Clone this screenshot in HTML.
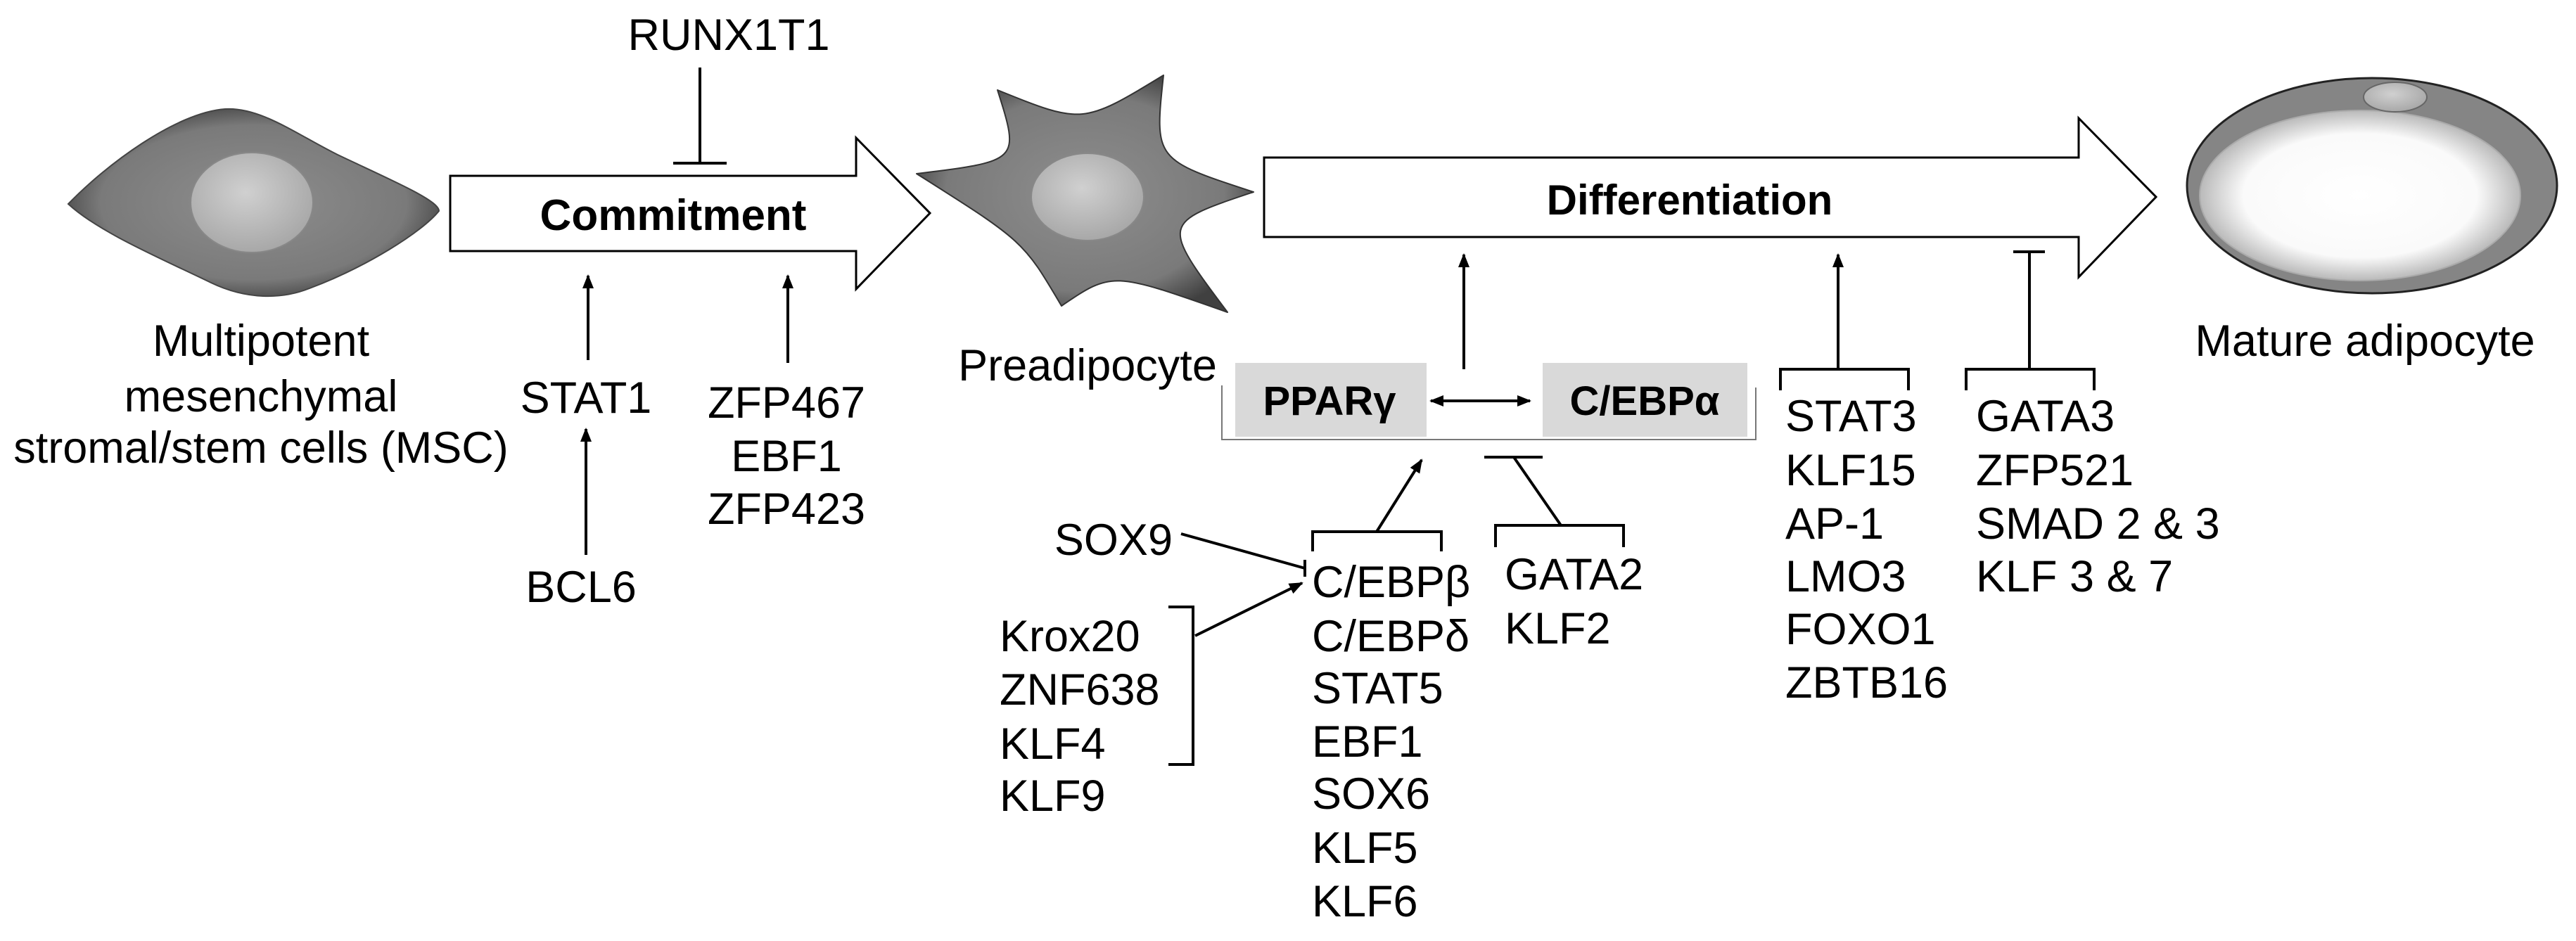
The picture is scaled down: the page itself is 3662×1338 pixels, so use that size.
<!DOCTYPE html>
<html><head><meta charset="utf-8"><style>
html,body{margin:0;padding:0;background:#fff;}
svg{display:block;}
text{font-family:"Liberation Sans",Arial,sans-serif;font-size:63px;fill:#000;}
.b{font-weight:bold;}
</style></head><body>
<svg width="3662" height="1338" viewBox="0 0 3662 1338" xmlns="http://www.w3.org/2000/svg">
<defs>
<radialGradient id="cell" cx="50%" cy="50%" r="55%">
<stop offset="0%" stop-color="#8e8e8e"/><stop offset="75%" stop-color="#7a7a7a"/><stop offset="100%" stop-color="#404040"/>
</radialGradient>
<radialGradient id="nuc" cx="45%" cy="40%" r="60%">
<stop offset="0%" stop-color="#d0d0d0"/><stop offset="100%" stop-color="#a8a8a8"/>
</radialGradient>
<radialGradient id="fat" cx="50%" cy="50%" r="52%">
<stop offset="0%" stop-color="#ffffff"/><stop offset="70%" stop-color="#fafafa"/><stop offset="100%" stop-color="#b0b0b0"/>
</radialGradient>
<marker id="ah" viewBox="0 0 10 10" refX="9" refY="5" markerWidth="5" markerHeight="5" orient="auto-start-reverse" markerUnits="strokeWidth">
<path d="M0,1 L10,5 L0,9 z" fill="#000"/>
</marker>
</defs>

<!-- MSC cell -->
<path d="M97,290 C150,235 250,160 320,155 C370,152 420,190 480,220 C560,258 624,285 624,300 C600,330 520,380 440,410 C400,426 350,426 300,402 C230,368 140,330 97,290 Z" fill="url(#cell)" stroke="#444" stroke-width="2"/>
<ellipse cx="358" cy="288" rx="87" ry="71" fill="url(#nuc)" stroke="#888" stroke-width="2"/>
<text x="371" y="506" text-anchor="middle">Multipotent</text>
<text x="371" y="585" text-anchor="middle">mesenchymal</text>
<text x="371" y="658" text-anchor="middle">stromal/stem cells (MSC)</text>

<!-- Commitment arrow -->
<path d="M640,250 L1217,250 L1217,196 L1322,303 L1217,411 L1217,357 L640,357 Z" fill="#fff" stroke="#000" stroke-width="3"/>
<text x="957" y="327" text-anchor="middle" class="b" style="font-size:62px">Commitment</text>
<text x="1036" y="71" text-anchor="middle">RUNX1T1</text>
<line x1="995" y1="96" x2="995" y2="232" stroke="#000" stroke-width="4"/>
<line x1="957" y1="232" x2="1033" y2="232" stroke="#000" stroke-width="4"/>
<line x1="836" y1="512" x2="836" y2="392" stroke="#000" stroke-width="4" marker-end="url(#ah)"/>
<text x="833" y="587" text-anchor="middle">STAT1</text>
<line x1="833" y1="789" x2="833" y2="610" stroke="#000" stroke-width="4" marker-end="url(#ah)"/>
<text x="826" y="856" text-anchor="middle">BCL6</text>
<line x1="1120" y1="516" x2="1120" y2="392" stroke="#000" stroke-width="4" marker-end="url(#ah)"/>
<text x="1118" y="594" text-anchor="middle">ZFP467</text>
<text x="1118" y="670" text-anchor="middle">EBF1</text>
<text x="1118" y="745" text-anchor="middle">ZFP423</text>

<!-- Preadipocyte star -->
<path d="M1654,107 C1539,177 1539,177 1418,128 C1450,229 1450,229 1303,247 C1455,343 1455,343 1509,435 C1581,386 1581,386 1745,444 C1650,317 1650,317 1782,273 C1641,227 1641,227 1654,107 Z" fill="url(#cell)" stroke="#333" stroke-width="2" stroke-linejoin="round"/>
<ellipse cx="1546" cy="280" rx="80" ry="62" fill="url(#nuc)" stroke="#888" stroke-width="2"/>
<text x="1546" y="541" text-anchor="middle">Preadipocyte</text>

<!-- Differentiation arrow -->
<path d="M1797,224 L2955,224 L2955,168 L3065,280 L2955,394 L2955,337 L1797,337 Z" fill="#fff" stroke="#000" stroke-width="3"/>
<text x="2402" y="305" text-anchor="middle" class="b" style="font-size:60px">Differentiation</text>

<!-- PPARg / CEBPa -->
<path d="M1737,548 L1737,625 L2496,625 L2496,551" fill="none" stroke="#777" stroke-width="2"/>
<rect x="1756" y="516" width="272" height="105" fill="#d9d9d9"/>
<rect x="2193" y="516" width="291" height="105" fill="#d9d9d9"/>
<text x="1890" y="590" text-anchor="middle" class="b" style="font-size:58px">PPARγ</text>
<text x="2338" y="590" text-anchor="middle" class="b" style="font-size:58px">C/EBPα</text>
<line x1="2034" y1="570" x2="2175" y2="570" stroke="#000" stroke-width="4" marker-start="url(#ah)" marker-end="url(#ah)"/>
<line x1="2081" y1="525" x2="2081" y2="362" stroke="#000" stroke-width="4" marker-end="url(#ah)"/>

<!-- CEBPb group -->
<path d="M1866,784 L1866,756 L2049,756 L2049,784" fill="none" stroke="#000" stroke-width="4"/>
<line x1="1957" y1="756" x2="2021" y2="654" stroke="#000" stroke-width="4" marker-end="url(#ah)"/>
<text x="1865" y="849">C/EBPβ</text>
<text x="1865" y="926">C/EBPδ</text>
<text x="1865" y="1000">STAT5</text>
<text x="1865" y="1076">EBF1</text>
<text x="1865" y="1150">SOX6</text>
<text x="1865" y="1227">KLF5</text>
<text x="1865" y="1303">KLF6</text>

<!-- GATA2 group -->
<path d="M2126,778 L2126,747 L2308,747 L2308,778" fill="none" stroke="#000" stroke-width="4"/>
<line x1="2219" y1="747" x2="2152" y2="650" stroke="#000" stroke-width="4"/>
<line x1="2110" y1="650" x2="2193" y2="650" stroke="#000" stroke-width="4"/>
<text x="2139" y="838">GATA2</text>
<text x="2139" y="915">KLF2</text>

<!-- SOX9 / Krox -->
<text x="1667" y="789" text-anchor="end">SOX9</text>
<line x1="1679" y1="759" x2="1855" y2="808" stroke="#000" stroke-width="4"/>
<line x1="1855" y1="796" x2="1855" y2="820" stroke="#000" stroke-width="4"/>
<path d="M1661,863 L1696,863 L1696,1087 L1661,1087" fill="none" stroke="#000" stroke-width="4"/>
<line x1="1699" y1="904" x2="1851" y2="829" stroke="#000" stroke-width="4" marker-end="url(#ah)"/>
<text x="1421" y="926">Krox20</text>
<text x="1421" y="1002">ZNF638</text>
<text x="1421" y="1079">KLF4</text>
<text x="1421" y="1153">KLF9</text>

<!-- STAT3 group -->
<path d="M2531,555 L2531,525 L2713,525 L2713,555" fill="none" stroke="#000" stroke-width="4"/>
<line x1="2613" y1="525" x2="2613" y2="362" stroke="#000" stroke-width="4" marker-end="url(#ah)"/>
<text x="2538" y="613">STAT3</text>
<text x="2538" y="690">KLF15</text>
<text x="2538" y="766">AP-1</text>
<text x="2538" y="841">LMO3</text>
<text x="2538" y="916">FOXO1</text>
<text x="2538" y="992">ZBTB16</text>

<!-- GATA3 group -->
<path d="M2795,555 L2795,525 L2977,525 L2977,555" fill="none" stroke="#000" stroke-width="4"/>
<line x1="2885" y1="525" x2="2885" y2="358" stroke="#000" stroke-width="4"/>
<line x1="2862" y1="358" x2="2907" y2="358" stroke="#000" stroke-width="4"/>
<text x="2809" y="613">GATA3</text>
<text x="2809" y="690">ZFP521</text>
<text x="2809" y="766">SMAD 2 &amp; 3</text>
<text x="2809" y="841">KLF 3 &amp; 7</text>

<!-- Mature adipocyte -->
<ellipse cx="3372" cy="264" rx="263" ry="153" fill="#858585" stroke="#222" stroke-width="3"/>
<ellipse cx="3355" cy="278" rx="228" ry="121" fill="url(#fat)" stroke="#aaa" stroke-width="2"/>
<ellipse cx="3405" cy="138" rx="45" ry="21" fill="url(#nuc)" stroke="#666" stroke-width="2"/>
<text x="3362" y="506" text-anchor="middle">Mature adipocyte</text>
</svg>
</body></html>
